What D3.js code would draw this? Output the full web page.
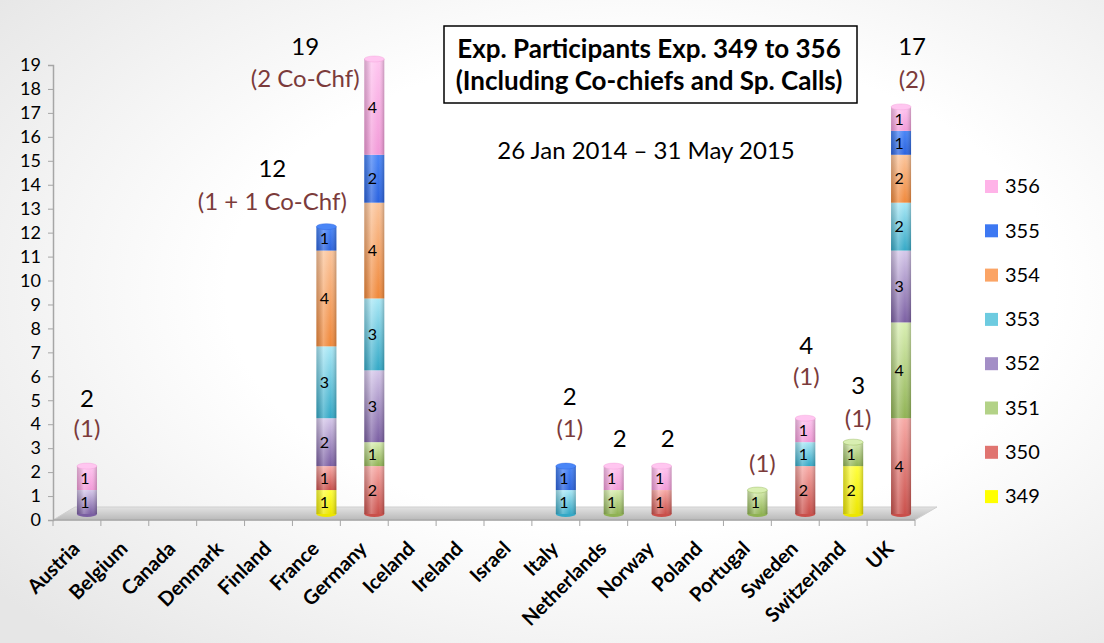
<!DOCTYPE html>
<html>
<head>
<meta charset="utf-8">
<script src="https://cdn.jsdelivr.net/npm/d3@7"></script>
<style>
  body { margin: 0; background: #fff; }
  svg { display: block; font-family: Lato, "Open Sans", sans-serif; }
</style>
</head>
<body>
<div id="chart"></div>
<script>
const countries = ["Austria", "Belgium", "Canada", "Denmark", "Finland", "France", "Germany", "Iceland",
    "Ireland", "Israel", "Italy", "Netherlands", "Norway", "Poland", "Portugal", "Sweden", "Switzerland", "UK"]
const series = ["349", "350", "351", "352", "353", "354", "355", "356"]

//            Au Be Ca De Fi Fr Ge Ic Ir Is It Ne No Po Pt Sw Sz UK
const exp349 = [0, 0, 0, 0, 0, 1, 0, 0, 0, 0, 0, 0, 0, 0, 0, 0, 2, 0]
const exp350 = [0, 0, 0, 0, 0, 1, 2, 0, 0, 0, 0, 0, 1, 0, 0, 2, 0, 4]
const exp351 = [0, 0, 0, 0, 0, 0, 1, 0, 0, 0, 0, 1, 0, 0, 1, 0, 1, 4]
const exp352 = [1, 0, 0, 0, 0, 2, 3, 0, 0, 0, 0, 0, 0, 0, 0, 0, 0, 3]
const exp353 = [0, 0, 0, 0, 0, 3, 3, 0, 0, 0, 1, 0, 0, 0, 0, 1, 0, 2]
const exp354 = [0, 0, 0, 0, 0, 4, 4, 0, 0, 0, 0, 0, 0, 0, 0, 0, 0, 2]
const exp355 = [0, 0, 0, 0, 0, 1, 2, 0, 0, 0, 1, 0, 0, 0, 0, 0, 0, 1]
const exp356 = [1, 0, 0, 0, 0, 0, 4, 0, 0, 0, 0, 1, 1, 0, 0, 1, 0, 1]

const totalLabels = ["2", "", "", "", "", "12", "19", "", "", "", "2", "2", "2", "", "", "4", "3", "17"]
const coChiefLabels = ["(1)", "", "", "", "", "(1 + 1 Co-Chf)", "(2 Co-Chf)", "", "", "", "(1)", "", "",
    "", "(1)", "(1)", "(1)", "(2)"]

const yTicks = d3.range(0, 20)
const titleLines = ["Exp. Participants Exp. 349 to 356", "(Including Co-chiefs and Sp. Calls)"]
const subtitle = "26 Jan 2014 \u2013 31 May 2015"

const gc = {
    width: 1104,
    height: 643,
    plot: { left: 53, right: 915, top: 65, bottom: 520 },
    depth: { dx: 10, dy: 6 },
    barWidth: 20,
    floor: { back: 507, backDx: 22 },
    colors: {
        "349": ["#ffff3c", "#ece600"],
        "350": ["#f7aaa6", "#c94f4a"],
        "351": ["#d9efb2", "#8fb253"],
        "352": ["#d6c8ea", "#7a5ea2"],
        "353": ["#aae8f6", "#33a8c6"],
        "354": ["#fbc59c", "#f0883a"],
        "355": ["#4a86f7", "#2a62de"],
        "356": ["#ffc6f0", "#f29ad8"]
    },
    swatch: {
        "349": "#ffff00", "350": "#e07470", "351": "#b3d287", "352": "#a38ec6",
        "353": "#6dcbe0", "354": "#fba465", "355": "#3d78f2", "356": "#ffb3e8"
    },
    // label offsets [dx, dy of paren line, dy of total line], relative to bar top
    labelShift: {
        Austria: [0, -44, -74], France: [-54, -31, -64], Germany: [-69, 13, -19],
        Italy: [4, -44, -76], Netherlands: [6, -34, -34], Norway: [6, -34, -34],
        Portugal: [5, -33, -33], Sweden: [1, -48, -79], Switzerland: [5, -30, -63],
        UK: [11, -34, -67]
    },
    total: { size: 24, color: "#000" },
    paren: { size: 24, color: "#7b3b3b" },
    legend: { x: 985, y: 186, step: 44.3, size: 20 }
}

const seriesValues = [exp349, exp350, exp351, exp352, exp353, exp354, exp355, exp356]
const rows = countries.map((c, i) => {
    const row = { country: c }
    series.forEach((s, k) => { row[s] = seriesValues[k][i] })
    return row
})

const svg = d3.select("#chart").append("svg")
    .attr("width", gc.width)
    .attr("height", gc.height)

const defs = svg.append("defs")

// background
const bg = defs.append("radialGradient").attr("id", "bg")
    .attr("cx", "58%").attr("cy", "45%").attr("r", "75%")
bg.append("stop").attr("offset", "0.5").attr("stop-color", "#ffffff")
bg.append("stop").attr("offset", "1").attr("stop-color", "#e6e6e6")
svg.append("rect").attr("width", gc.width).attr("height", gc.height).attr("fill", "url(#bg)")

series.forEach(s => {
    const g = defs.append("linearGradient").attr("id", "grad" + s)
        .attr("x1", 0).attr("y1", 0).attr("x2", 0).attr("y2", 1)
    g.append("stop").attr("offset", 0).attr("stop-color", gc.colors[s][0])
    g.append("stop").attr("offset", 1).attr("stop-color", gc.colors[s][1])
})

const shade = defs.append("linearGradient").attr("id", "shade")
    .attr("x1", 0).attr("y1", 0).attr("x2", 1).attr("y2", 0)
shade.append("stop").attr("offset", 0).attr("stop-color", "#000").attr("stop-opacity", 0.18)
shade.append("stop").attr("offset", 0.35).attr("stop-color", "#fff").attr("stop-opacity", 0.25)
shade.append("stop").attr("offset", 0.7).attr("stop-color", "#fff").attr("stop-opacity", 0)
shade.append("stop").attr("offset", 1).attr("stop-color", "#000").attr("stop-opacity", 0.22)

const floorGrad = defs.append("linearGradient").attr("id", "floorGrad")
    .attr("x1", 0).attr("y1", 0).attr("x2", 0).attr("y2", 1)
floorGrad.append("stop").attr("offset", 0).attr("stop-color", "#e2e2e2")
floorGrad.append("stop").attr("offset", 1).attr("stop-color", "#b9b9b9")

const x = d3.scaleBand().domain(countries).range([gc.plot.left, gc.plot.right])
const y = d3.scaleLinear().domain([0, 19]).range([gc.plot.bottom, gc.plot.top])
const bw = x.bandwidth()
const cx = c => x(c) + bw / 2 + gc.depth.dx
const yb = v => y(v) - gc.depth.dy

// floor
const p = gc.plot
svg.append("path")
    .attr("d", `M${p.left},${p.bottom} L${p.left + gc.floor.backDx},${gc.floor.back} ` +
        `L${p.right + gc.floor.backDx},${gc.floor.back} L${p.right},${p.bottom} Z`)
    .attr("fill", "url(#floorGrad)")
    .attr("stroke", "#cfcfcf")
    .attr("stroke-width", 1)

// y axis
const yAxis = svg.append("g")
    .attr("transform", `translate(${p.left},0)`)
    .call(d3.axisLeft(y).tickValues(yTicks).tickSize(5).tickPadding(7))
yAxis.select(".domain").attr("stroke", "#a6a6a6").attr("stroke-width", 1.5)
yAxis.selectAll(".tick line").attr("stroke", "#a6a6a6")
yAxis.selectAll(".tick text")
    .style("font-family", "Lato, sans-serif")
    .style("font-size", "18px")
    .attr("fill", "#000")

// x ticks and labels
const xa = svg.append("g")
xa.append("line")
    .attr("x1", p.left).attr("x2", p.right)
    .attr("y1", p.bottom).attr("y2", p.bottom)
    .attr("stroke", "#a6a6a6").attr("stroke-width", 1.5)
xa.selectAll(".xt").data(countries.concat(["end"]))
    .join("line").attr("class", "xt")
    .attr("x1", d => d === "end" ? p.right : x(d))
    .attr("x2", d => d === "end" ? p.right : x(d))
    .attr("y1", p.bottom).attr("y2", p.bottom + 6)
    .attr("stroke", "#a6a6a6")
xa.selectAll(".xl").data(countries)
    .join("text").attr("class", "xl")
    .attr("transform", d => `translate(${cx(d) - 11},${p.bottom + 25}) rotate(-45)`)
    .attr("text-anchor", "end")
    .attr("dy", "0.35em")
    .style("font-size", "20px")
    .style("font-weight", "bold")
    .text(d => d)

// bars
const stacked = d3.stack().keys(series)(rows)
const bars = svg.append("g")

countries.forEach((c, i) => {
    const total = d3.sum(series, s => rows[i][s])
    if (total === 0) return
    const g = bars.append("g")
    const left = cx(c) - gc.barWidth / 2
    const segs = stacked.filter(layer => layer[i][1] > layer[i][0])
        .map(layer => ({ key: layer.key, y0: layer[i][0], y1: layer[i][1] }))

    // bottom cap
    g.append("ellipse")
        .attr("cx", cx(c)).attr("cy", yb(0))
        .attr("rx", gc.barWidth / 2).attr("ry", 3)
        .attr("fill", gc.colors[segs[0].key][1])

    g.selectAll(".seg").data(segs).join("rect")
        .attr("class", "seg")
        .attr("x", left)
        .attr("y", d => yb(d.y1))
        .attr("width", gc.barWidth)
        .attr("height", d => yb(d.y0) - yb(d.y1))
        .attr("fill", d => `url(#grad${d.key})`)

    g.append("rect")
        .attr("x", left).attr("y", yb(total))
        .attr("width", gc.barWidth).attr("height", yb(0) - yb(total))
        .attr("fill", "url(#shade)")

    // top cap
    const topKey = segs[segs.length - 1].key
    g.append("ellipse")
        .attr("cx", cx(c)).attr("cy", yb(total))
        .attr("rx", gc.barWidth / 2).attr("ry", 3)
        .attr("fill", gc.colors[topKey][0])
        .attr("stroke", gc.colors[topKey][1])
        .attr("stroke-opacity", 0.5)
        .attr("stroke-width", 0.8)

    g.selectAll(".segl").data(segs).join("text")
        .attr("class", "segl")
        .attr("x", cx(c) - 2)
        .attr("y", d => (yb(d.y0) + yb(d.y1)) / 2)
        .attr("text-anchor", "middle")
        .attr("dy", "0.36em")
        .style("font-size", "16px")
        .text(d => d.y1 - d.y0)

    // annotations above the bar
    const shift = gc.labelShift[c] || [0, -34, -66]
    const top = y(total)
    if (coChiefLabels[i]) {
        svg.append("text")
            .attr("x", cx(c) + shift[0]).attr("y", top + shift[1])
            .attr("text-anchor", "middle").attr("dy", "0.36em")
            .style("font-size", gc.paren.size + "px")
            .attr("fill", gc.paren.color)
            .text(coChiefLabels[i])
    }
    if (totalLabels[i]) {
        svg.append("text")
            .attr("x", cx(c) + shift[0]).attr("y", top + shift[2])
            .attr("text-anchor", "middle").attr("dy", "0.36em")
            .style("font-size", gc.total.size + "px")
            .attr("fill", gc.total.color)
            .text(totalLabels[i])
    }
})

// title box
svg.append("rect")
    .attr("x", 444).attr("y", 26).attr("width", 413).attr("height", 77)
    .attr("fill", "#fff").attr("stroke", "#000").attr("stroke-width", 1.5)
svg.selectAll(".title").data(titleLines).join("text")
    .attr("class", "title")
    .attr("x", 649)
    .attr("y", (d, i) => 49 + i * 32)
    .attr("text-anchor", "middle").attr("dy", "0.36em")
    .style("font-size", "26px").style("font-weight", "bold")
    .text(d => d)

svg.append("text")
    .attr("x", 646).attr("y", 150)
    .attr("text-anchor", "middle").attr("dy", "0.36em")
    .style("font-size", "24px")
    .text(subtitle)

// legend
const legend = svg.append("g")
const legendKeys = series.slice().reverse()
legend.selectAll("rect").data(legendKeys).join("rect")
    .attr("x", gc.legend.x)
    .attr("y", (d, i) => gc.legend.y + i * gc.legend.step - 6)
    .attr("width", 13).attr("height", 13)
    .attr("fill", d => gc.swatch[d])
legend.selectAll("text").data(legendKeys).join("text")
    .attr("x", gc.legend.x + 20)
    .attr("y", (d, i) => gc.legend.y + i * gc.legend.step)
    .attr("dy", "0.36em")
    .style("font-size", gc.legend.size + "px")
    .text(d => d)
</script>
</body>
</html>
